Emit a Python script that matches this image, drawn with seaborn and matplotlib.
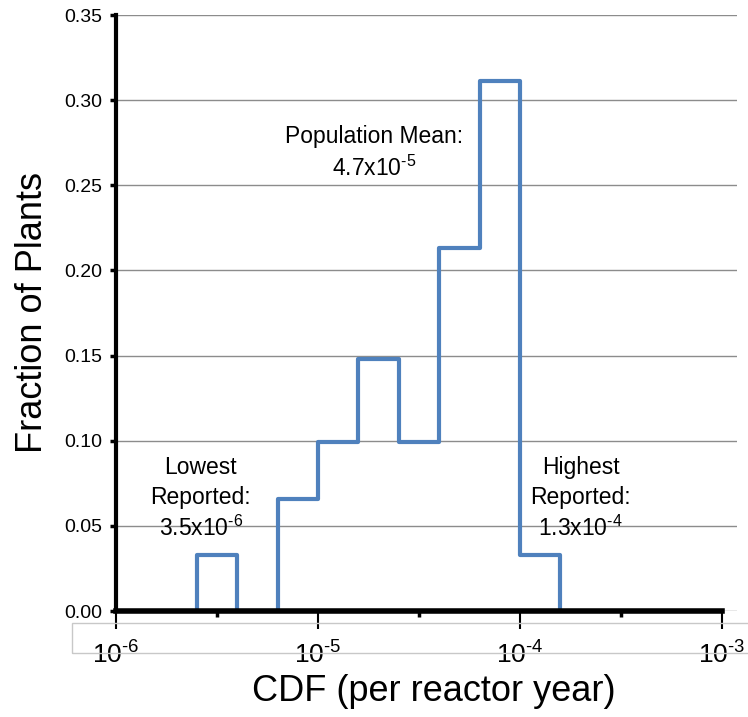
import numpy as np
import pandas as pd
import matplotlib
matplotlib.use("Agg")
import matplotlib.pyplot as plt
import matplotlib.ticker as mticker
from matplotlib.patches import Rectangle
import seaborn as sns

# ---- data ----
bin_edge_exponents = [-5.6, -5.4, -5.2, -5.0, -4.8, -4.6, -4.4, -4.2, -4.0, -3.8]
fractions = [0.033, 0.0, 0.066, 0.099, 0.148, 0.099, 0.213, 0.311, 0.033]
x_tick_exponents = [-6, -5, -4, -3]
y_ticks = [0.00, 0.05, 0.10, 0.15, 0.20, 0.25, 0.30, 0.35]
annotations = [
    ("Population Mean:\n4.7x10$^{\\text{-5}}$", -4.72, 0.2690),
    ("Lowest\nReported:\n3.5x10$^{\\text{-6}}$", -5.58, 0.0660),
    ("Highest\nReported:\n1.3x10$^{\\text{-4}}$", -3.70, 0.0660),
]

edges = [10.0 ** e for e in bin_edge_exponents]
step_x = [edges[0]] + edges
step_y = [0.0] + fractions + [0.0]
df = pd.DataFrame({"x": step_x, "y": step_y})

sns.set_theme(style="white")
plt.rcParams["font.family"] = ["Liberation Sans", "DejaVu Sans"]
plt.rcParams["mathtext.fontset"] = "custom"
plt.rcParams["mathtext.rm"] = "Liberation Sans"
plt.rcParams["mathtext.it"] = "Liberation Sans"
plt.rcParams["mathtext.default"] = "regular"

fig = plt.figure(figsize=(7.48, 7.17), dpi=100)
ax = fig.add_axes([116 / 748, 1 - 611 / 717, (737 - 116) / 748, (611 - 15) / 717])

ax.set_xscale("log")
sns.lineplot(data=df, x="x", y="y", sort=False, estimator=None, drawstyle="steps-post",
             color="#4F81BD", linewidth=3, ax=ax, zorder=3)

xmax = 10 ** (-3 + 3 * 15 / 606)
ax.set_xlim(1e-6, xmax)
ax.set_ylim(0, 0.35)

ax.set_yticks(y_ticks)
ax.yaxis.set_major_formatter(mticker.FormatStrFormatter("%.2f"))
ax.grid(axis="y", color="#8c8c8c", linewidth=1)
ax.grid(axis="x", visible=False)

ax.xaxis.set_major_locator(mticker.FixedLocator([10.0 ** e for e in x_tick_exponents]))
ax.set_xticklabels([f"10$^{{\\text{{{e}}}}}$" for e in x_tick_exponents])
ax.xaxis.set_minor_locator(mticker.FixedLocator([10.0 ** (e + 0.5) for e in x_tick_exponents[:-1]]))
ax.xaxis.set_minor_formatter(mticker.NullFormatter())

for s in ["top", "right"]:
    ax.spines[s].set_visible(False)
ax.spines["left"].set_linewidth(3)
ax.spines["left"].set_color("black")
ax.spines["bottom"].set_linewidth(4)
ax.spines["bottom"].set_color("black")
ax.spines["bottom"].set_bounds(1e-6, 1e-3)
ax.spines["left"].set_zorder(4)
ax.spines["bottom"].set_zorder(4)

ax.tick_params(axis="y", which="major", left=True, length=4, width=2.5, color="black",
               labelsize=14, pad=6, labelcolor="black")
ax.tick_params(axis="x", which="major", bottom=True, length=13, width=1.5, color="black",
               labelsize=19, pad=9, labelcolor="black")
ax.tick_params(axis="x", which="minor", bottom=True, length=4, width=2.5, color="black")

ax.set_xlabel("CDF (per reactor year)", fontsize=26, color="black")
ax.set_ylabel("Fraction of Plants", fontsize=26, color="black")
ax.xaxis.set_label_coords((434 - 116) / 621, -0.105)
ax.yaxis.set_label_coords(-0.107, 0.5)

for txt, xe, yv in annotations:
    ax.text(10 ** xe, yv, txt, ha="center", va="center", fontsize=16.5,
            linespacing=1.35, color="black", zorder=5)

fig.patches.append(Rectangle((72 / 748, 1 - 653 / 717), 1.0, 30 / 717, transform=fig.transFigure,
                             fill=False, edgecolor="#c8c8c8", linewidth=1, zorder=0))

fig.savefig("out.png", dpi=100, facecolor="white")
